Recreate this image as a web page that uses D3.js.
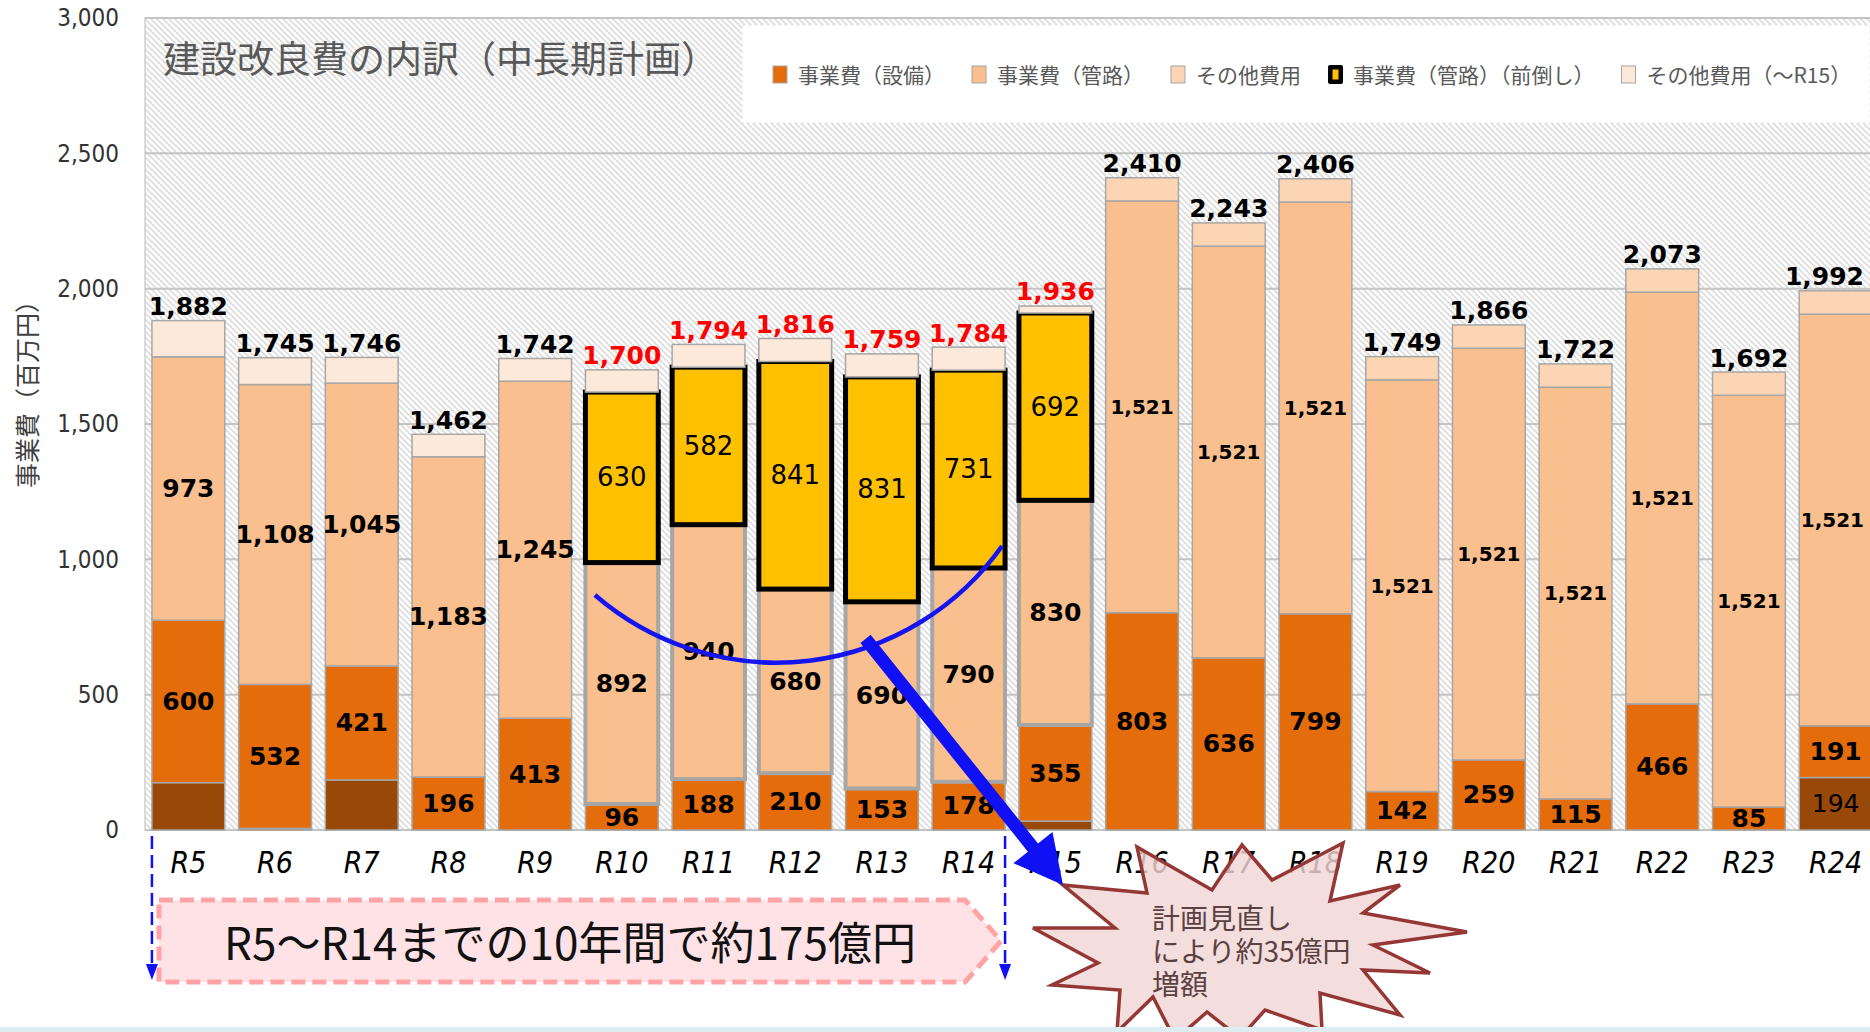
<!DOCTYPE html>
<html>
<head>
<meta charset="utf-8">
<script src="https://cdn.jsdelivr.net/npm/d3@7"></script>
<style>
  html, body { margin: 0; padding: 0; background: #fff; }
  svg { display: block; }
</style>
</head>
<body>
<svg id="chart"></svg>
<script>
// ---- data (百万円) ----
const categories = ['R5', 'R6', 'R7', 'R8', 'R9', 'R10', 'R11', 'R12', 'R13', 'R14',
  'R15', 'R16', 'R17', 'R18', 'R19', 'R20', 'R21', 'R22', 'R23', 'R24'];
const baseDark = [175, 6, 185, 0, 0, 0, 0, 0, 0, 0, 33, 0, 0, 0, 0, 0, 0, 0, 0, 194];
const facilities = [600, 532, 421, 196, 413, 96, 188, 210, 153, 178, 355, 803, 636, 799, 142, 259, 115, 466, 85, 191];
const pipes = [973, 1108, 1045, 1183, 1245, 892, 940, 680, 690, 790, 830,
  1521, 1521, 1521, 1521, 1521, 1521, 1521, 1521, 1521];
const pipesAdvanced = [0, 0, 0, 0, 0, 630, 582, 841, 831, 731, 692, 0, 0, 0, 0, 0, 0, 0, 0, 0];
const otherCosts = [0, 0, 0, 0, 0, 0, 0, 0, 0, 0, 0, 86, 86, 86, 86, 86, 86, 86, 86, 86];
const otherCostsToR15 = [134, 99, 95, 83, 84, 82, 84, 85, 85, 85, 26, 0, 0, 0, 0, 0, 0, 0, 0, 0];
const darkLabelled = ['R24'];
const yTicks = [0, 500, 1000, 1500, 2000, 2500, 3000];
const legendNames = ['事業費（設備）', '事業費（管路）', 'その他費用', '事業費（管路）（前倒し）', 'その他費用（～R15）'];

const W = 1870, H = 1032;
const plot = { left: 145, top: 18, bottom: 830, width: 1734 };

const svg = d3.select('#chart').attr('width', W).attr('height', H);

const x = d3.scaleBand()
  .domain(categories)
  .range([plot.left, plot.left + plot.width])
  .paddingInner(0.16)
  .paddingOuter(0.08);

const y = d3.scaleLinear()
  .domain([0, 3000])
  .range([plot.bottom, plot.top]);

const bw = x.bandwidth();

const table = categories.map((cat, i) => ({
  cat,
  dark: baseDark[i],
  fac: facilities[i],
  pipe: pipes[i],
  adv: pipesAdvanced[i],
  other: otherCosts[i],
  other15: otherCostsToR15[i],
}));

const keys = ['dark', 'fac', 'pipe', 'adv', 'other', 'other15'];
const fills = {
  dark: '#984807', fac: '#E46C0A', pipe: '#F9BF8F', adv: '#FFC000', other: '#FCD5B5', other15: '#FDE9D9',
};
const series = d3.stack().keys(keys)(table);

// keep labels of the clipped last bar inside the picture
function fitInside(sel) {
  sel.each(function () {
    const b = this.getBBox();
    const over = b.x + b.width - (W - 6);
    if (over > 0) d3.select(this).attr('x', +d3.select(this).attr('x') - over);
  });
}

// ---- defs ----
const defs = svg.append('defs');
const hatch = defs.append('pattern')
  .attr('id', 'hatch')
  .attr('patternUnits', 'userSpaceOnUse')
  .attr('width', 6)
  .attr('height', 6);
hatch.append('rect').attr('width', 6).attr('height', 6).attr('fill', '#fff');
hatch.append('path')
  .attr('d', 'M-1,-1L7,7M-1,5L1,7M5,-1L7,1')
  .attr('stroke', '#DEDEDE')
  .attr('stroke-width', 1.8);

svg.append('rect').attr('width', W).attr('height', H).attr('fill', '#fff');

// ---- plot area ----
svg.append('rect')
  .attr('x', plot.left)
  .attr('y', plot.top)
  .attr('width', plot.width)
  .attr('height', plot.bottom - plot.top)
  .attr('fill', 'url(#hatch)')
  .attr('stroke', '#D0D0D0')
  .attr('stroke-width', 1.5);

svg.append('g')
  .selectAll('line')
  .data(yTicks)
  .join('line')
  .attr('x1', plot.left)
  .attr('x2', plot.left + plot.width)
  .attr('y1', (d) => y(d))
  .attr('y2', (d) => y(d))
  .attr('stroke', '#C4C4C4')
  .attr('stroke-width', 2);

// y axis
svg.append('g')
  .attr('transform', `translate(${plot.left},0)`)
  .call(d3.axisLeft(y).tickValues(yTicks).tickFormat(d3.format(',')).tickSize(0).tickPadding(26))
  .call((g) => g.select('.domain').remove())
  .selectAll('text')
  .attr('font-family', '"Liberation Sans Narrow", "DejaVu Sans Condensed", sans-serif')
  .attr('font-size', 24)
  .attr('fill', '#333');

svg.append('text')
  .attr('transform', 'translate(26,388) rotate(-90)')
  .attr('text-anchor', 'middle')
  .attr('dominant-baseline', 'central')
  .attr('font-family', '"Noto Sans CJK JP", sans-serif')
  .attr('font-size', 25)
  .attr('fill', '#404040')
  .text('事業費（百万円）');

// ---- bars ----
const barLayer = svg.append('g');
series.forEach((s) => {
  barLayer.append('g')
    .selectAll('rect')
    .data(s.filter((d) => d[1] - d[0] > 0))
    .join('rect')
    .attr('x', (d) => x(d.data.cat))
    .attr('y', (d) => y(d[1]))
    .attr('width', bw)
    .attr('height', (d) => y(d[0]) - y(d[1]))
    .attr('fill', fills[s.key])
    .attr('stroke', s.key === 'adv' ? '#000' : '#A6A6A6')
    .attr('stroke-width', (d) => {
      if (s.key === 'adv') return 5;
      if (s.key === 'pipe' && d.data.adv > 0) return 4;
      return 1.5;
    });
});

// segment labels
const r16 = categories.indexOf('R16');
const labelLayer = svg.append('g').attr('text-anchor', 'middle').attr('dominant-baseline', 'central');
series.forEach((s) => {
  if (['other', 'other15'].includes(s.key)) return;
  labelLayer.append('g')
    .selectAll('text')
    .data(s.filter((d) => d[1] - d[0] > 0 && (s.key !== 'dark' || darkLabelled.includes(d.data.cat))))
    .join('text')
    .attr('x', (d) => x(d.data.cat) + bw / 2)
    .attr('y', (d) => y((d[0] + d[1]) / 2))
    .attr('font-family', '"DejaVu Sans", sans-serif')
    .attr('font-weight', (s.key === 'adv' || s.key === 'dark') ? 'normal' : 'bold')
    .attr('font-size', (d) => {
      if (s.key === 'pipe' && categories.indexOf(d.data.cat) >= r16) return 20;
      return s.key === 'adv' ? 26 : 25;
    })
    .attr('fill', '#000')
    .text((d) => d3.format(',')(d[1] - d[0]))
    .call(fitInside);
});

// totals
const topSeries = series[series.length - 1];
labelLayer.append('g')
  .selectAll('text')
  .data(topSeries)
  .join('text')
  .attr('x', (d) => x(d.data.cat) + bw / 2)
  .attr('y', (d) => y(d[1]) - 14)
  .attr('font-family', '"DejaVu Sans", sans-serif')
  .attr('font-weight', 'bold')
  .attr('font-size', 25)
  .attr('fill', (d) => (d.data.adv > 0 ? '#FF0000' : '#000'))
  .text((d) => d3.format(',')(d[1]))
  .call(fitInside);

// x axis
svg.append('g')
  .attr('transform', `translate(0,${plot.bottom})`)
  .call(d3.axisBottom(x).tickSize(0).tickPadding(22))
  .call((g) => g.select('.domain').remove())
  .selectAll('text')
  .attr('font-family', '"Liberation Sans Narrow", "DejaVu Sans Condensed", sans-serif')
  .attr('font-style', 'italic')
  .attr('font-size', 30)
  .attr('fill', '#000');

// ---- title & legend ----
svg.append('text')
  .attr('x', 163)
  .attr('y', 57)
  .attr('dominant-baseline', 'central')
  .attr('font-family', '"Noto Sans CJK JP", sans-serif')
  .attr('font-size', 37)
  .attr('fill', '#595959')
  .text('建設改良費の内訳（中長期計画）');

svg.append('rect')
  .attr('x', 742).attr('y', 25)
  .attr('width', W - 742).attr('height', 98)
  .attr('fill', '#fff')
  .attr('stroke', '#E4E4E4')
  .attr('stroke-dasharray', '3,3');

const legendKeys = ['fac', 'pipe', 'other', 'adv', 'other15'];
let lx = 773;
legendNames.forEach((name, i) => {
  const key = legendKeys[i];
  const g = svg.append('g');
  if (key === 'adv') {
    g.append('rect').attr('x', lx).attr('y', 65).attr('width', 15).attr('height', 19)
      .attr('rx', 2).attr('fill', '#000');
    g.append('rect').attr('x', lx + 4.5).attr('y', 69.5).attr('width', 6).attr('height', 10)
      .attr('fill', fills.adv);
  } else {
    g.append('rect').attr('x', lx).attr('y', 66).attr('width', 14).attr('height', 17)
      .attr('fill', fills[key]).attr('stroke', '#A6A6A6').attr('stroke-width', 1);
  }
  const t = g.append('text')
    .attr('x', lx + 25)
    .attr('y', 74)
    .attr('dominant-baseline', 'central')
    .attr('font-family', '"Noto Sans CJK JP", sans-serif')
    .attr('font-size', 21)
    .attr('fill', '#595959')
    .text(name);
  lx += 25 + t.node().getComputedTextLength() + 27;
});

// ---- annotations ----
// arc over R10-R14 and arrow towards the burst
function circleFrom(p1, p2, p3) {
  const [ax, ay] = p1; const [bx, by] = p2; const [cx, cy] = p3;
  const d = 2 * (ax * (by - cy) + bx * (cy - ay) + cx * (ay - by));
  const ux = ((ax * ax + ay * ay) * (by - cy) + (bx * bx + by * by) * (cy - ay) + (cx * cx + cy * cy) * (ay - by)) / d;
  const uy = ((ax * ax + ay * ay) * (cx - bx) + (bx * bx + by * by) * (ax - cx) + (cx * cx + cy * cy) * (bx - ax)) / d;
  return { cx: ux, cy: uy, r: Math.hypot(ax - ux, ay - uy) };
}
const arcA = [x('R10') + 0.13 * bw, y(868)];
const arcB = [x('R12') - 12, y(624)];
const arcC = [x('R14') + bw - 3, y(1049)];
const circ = circleFrom(arcA, arcB, arcC);
svg.append('path')
  .attr('d', `M${arcA}A${circ.r},${circ.r} 0 0 0 ${arcC}`)
  .attr('fill', 'none')
  .attr('stroke', '#1414F0')
  .attr('stroke-width', 4.5);

// dashed range arrows
[x('R5'), x('R14') + bw].forEach((xx) => {
  svg.append('line')
    .attr('x1', xx).attr('x2', xx)
    .attr('y1', 836).attr('y2', 966)
    .attr('stroke', '#1010F5')
    .attr('stroke-width', 2.5)
    .attr('stroke-dasharray', '13,6');
  svg.append('path')
    .attr('d', `M${xx - 6},964L${xx + 6},964L${xx},980Z`)
    .attr('fill', '#1010F5');
});

// pink arrow box
const bx0 = x('R5') + 7, bx1 = x('R14') + bw - 40, bTip = x('R14') + bw - 4;
svg.append('path')
  .attr('d', `M${bx0},900L${bx1},900L${bTip},941L${bx1},982L${bx0},982Z`)
  .attr('fill', '#FFE2E5')
  .attr('stroke', '#FFA3A6')
  .attr('stroke-width', 5)
  .attr('stroke-dasharray', '14,7');
svg.append('text')
  .attr('x', 570)
  .attr('y', 940)
  .attr('text-anchor', 'middle')
  .attr('dominant-baseline', 'central')
  .attr('font-family', '"Noto Sans CJK JP", sans-serif')
  .attr('font-size', 45)
  .attr('textLength', 692)
  .attr('lengthAdjust', 'spacingAndGlyphs')
  .attr('fill', '#111')
  .text('R5～R14までの10年間で約175億円');

// burst
const burst = [[1063, 885], [1147, 893], [1137, 847], [1212, 890], [1242, 845], [1272, 880], [1343, 843],
  [1330, 901], [1400, 885], [1363, 913], [1467, 932], [1373, 945], [1430, 973], [1363, 970], [1400, 1015],
  [1320, 993], [1322, 1030], [1265, 1010], [1240, 1038], [1207, 1012], [1175, 1040], [1153, 997],
  [1117, 1032], [1120, 990], [1052, 985], [1098, 963], [1033, 928], [1115, 928]];
svg.append('path')
  .attr('d', `M${burst.join('L')}Z`)
  .attr('fill', '#F2D6D6')
  .attr('fill-opacity', 0.82)
  .attr('stroke', '#953735')
  .attr('stroke-width', 3.5)
  .attr('stroke-linejoin', 'miter');
svg.append('text')
  .attr('font-family', '"Noto Sans CJK JP", sans-serif')
  .attr('font-size', 28)
  .attr('fill', '#5B4141')
  .selectAll('tspan')
  .data(['計画見直し', 'により約35億円', '増額'])
  .join('tspan')
  .attr('x', 1152)
  .attr('y', (d, i) => 929 + i * 33)
  .text((d) => d);

// big blue arrow
const aStart = [x('R13') + 20, y(706)];
const aTip = [1063, 885];
const dx = aTip[0] - aStart[0], dy = aTip[1] - aStart[1];
const len = Math.hypot(dx, dy);
const ux = dx / len, uy = dy / len, nx = -uy, ny = ux;
const shaft = 6.5, headL = 48, headW = 25;
const hb = [aTip[0] - ux * headL, aTip[1] - uy * headL];
const arrowPts = [
  [aStart[0] + nx * shaft, aStart[1] + ny * shaft],
  [hb[0] + nx * shaft, hb[1] + ny * shaft],
  [hb[0] + nx * headW, hb[1] + ny * headW],
  aTip,
  [hb[0] - nx * headW, hb[1] - ny * headW],
  [hb[0] - nx * shaft, hb[1] - ny * shaft],
  [aStart[0] - nx * shaft, aStart[1] - ny * shaft],
];
svg.append('path')
  .attr('d', `M${arrowPts.join('L')}Z`)
  .attr('fill', '#1010F5');

// bottom strip
svg.append('rect').attr('x', 0).attr('y', 1027).attr('width', W).attr('height', 5).attr('fill', '#DDEEF3');
</script>
</body>
</html>
